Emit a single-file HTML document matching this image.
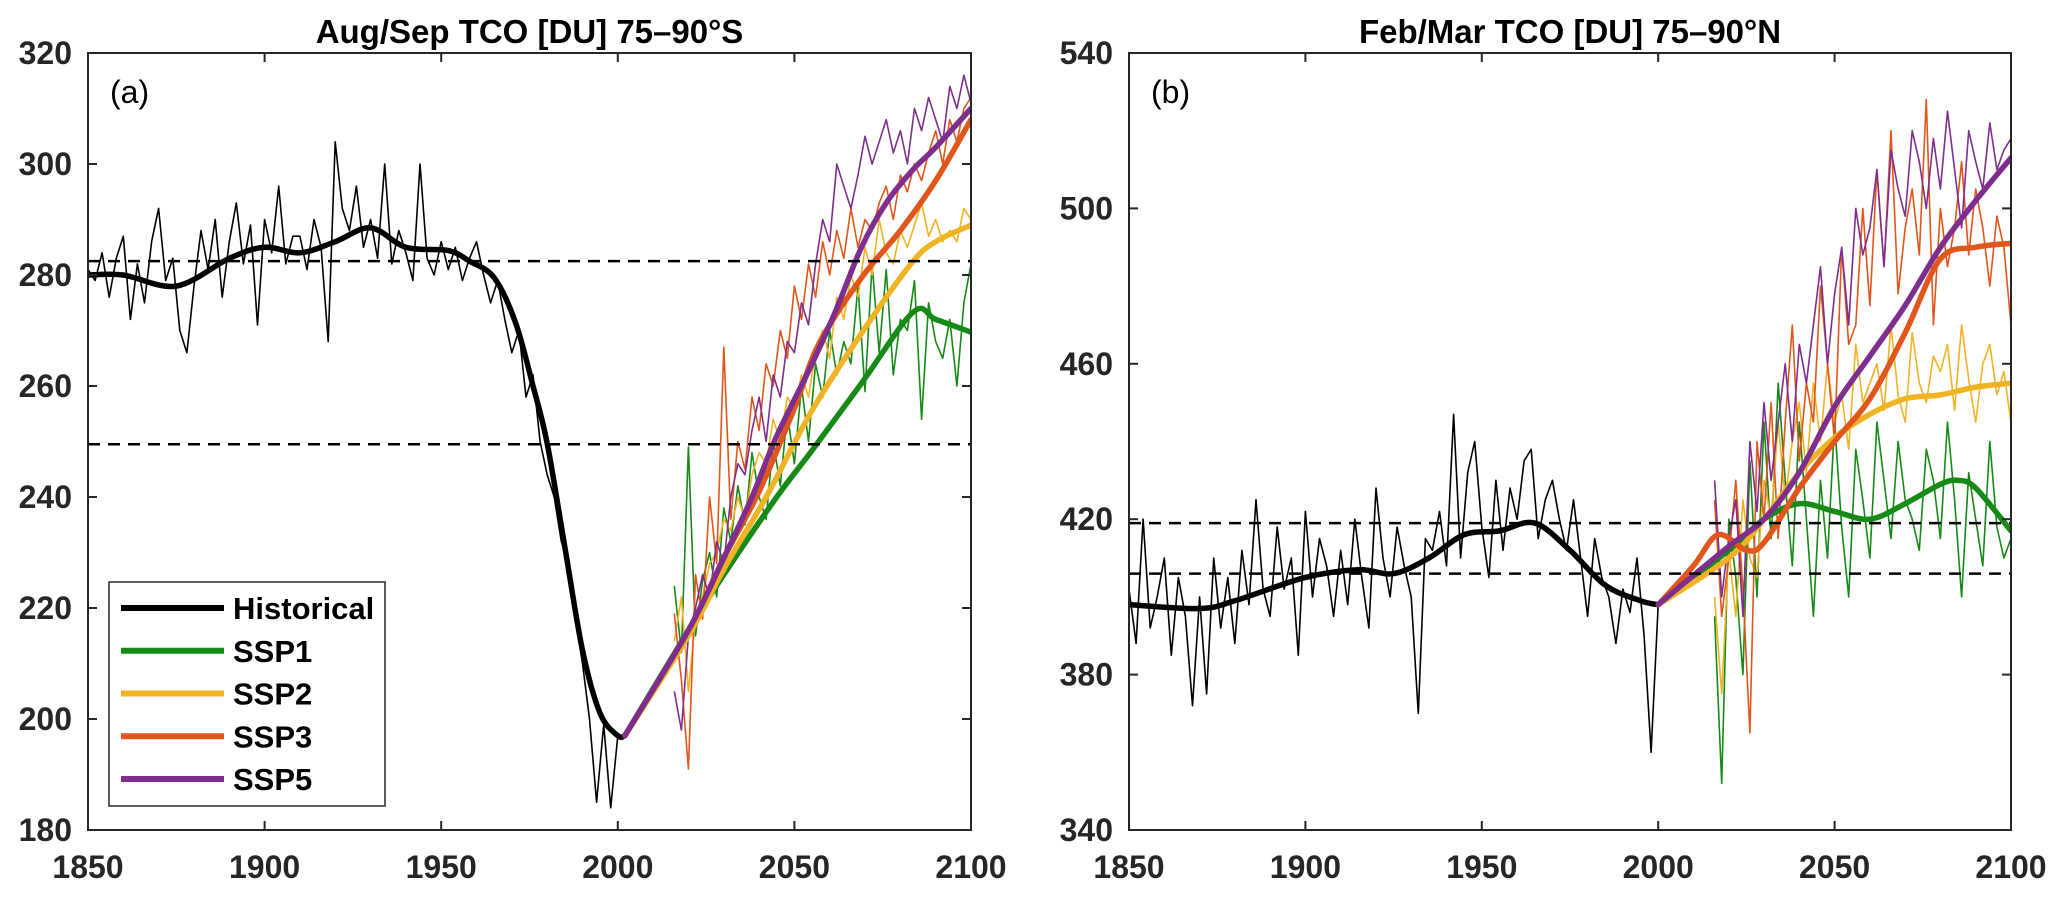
<!DOCTYPE html>
<html><head><meta charset="utf-8"><style>
body{margin:0;background:#fff;}
svg{display:block;font-family:"Liberation Sans",Arial,sans-serif;}
</style></head><body>
<svg id="fig" width="2067" height="898" viewBox="0 0 2067 898" xmlns="http://www.w3.org/2000/svg"></svg>
<script>
// ---------- DATA ----------
const histStart = 1850, futStart = 2016, stepYears = 2;
// Panel a: annual (every 2 yr) noisy values
const aHist = [281,279,284,276,283,287,272,282,275,286,292,279,283,270,266,278,288,281,290,276,286,293,282,289,271,290,284,296,282,287,287,281,290,285,268,304,292,288,296,285,290,283,300,282,288,284,279,300,283,280,286,281,285,279,283,286,280,275,279,272,266,270,258,262,250,244,240,232,228,218,210,200,185,199,184,197];
const aSSP1 = [224,212,249,215,225,230,222,238,232,242,235,248,240,236,250,242,255,246,260,250,264,258,270,262,268,264,278,259,282,266,281,262,272,270,279,254,275,268,265,272,260,275,282];
const aSSP2 = [214,222,205,218,222,228,230,236,234,240,236,244,248,246,254,250,258,256,262,258,266,270,265,276,272,280,276,285,280,290,284,282,288,285,289,293,287,290,286,288,286,292,290];
const aSSP3 = [219,207,191,226,218,240,228,267,236,250,245,258,252,264,260,270,265,278,272,282,276,286,280,288,283,292,285,290,288,293,296,290,298,295,300,297,302,306,300,308,304,310,312];
const aSSP5 = [205,198,215,220,226,222,232,228,240,246,244,252,258,250,262,258,268,266,275,271,282,290,286,300,296,292,298,305,300,304,308,302,306,300,310,306,312,308,304,314,310,316,311];
// Panel a: smoothed curves [year, value]
const aHistSmooth = [[1850,280],[1860,280],[1875,278],[1890,283],[1900,285],[1910,284],[1920,286],[1930,288.5],[1940,285],[1952,284.4],[1958,282.5],[1965,279.5],[1971,271.5],[1976,260],[1980,249.7],[1985,231],[1990,212.4],[1995,201],[2000,197],[2002,197]];
const aSSP1Smooth = [[2002,197],[2020,216],[2030,226],[2045,240],[2055,248.4],[2069,260.5],[2083.6,273.3],[2090,272],[2100,269.7]];
const aSSP2Smooth = [[2002,197],[2020,215],[2030,227],[2042,240],[2055,255.6],[2069,269.5],[2083,282],[2090,286],[2100,289]];
const aSSP3Smooth = [[2002,197],[2020,216],[2030,229],[2040,241],[2050,256],[2057,267.7],[2069,279.5],[2080,288],[2090,297],[2100,308]];
const aSSP5Smooth = [[2002,197],[2020,216],[2030,229],[2038,240],[2045,251],[2055,264],[2062,274],[2069,285],[2076,293],[2083.6,299],[2090,303],[2100,310]];
const aRefLines = [282.5, 249.5];
const aYTicks = [180,200,220,240,260,280,300,320];
// Panel b
const bHist = [402,388,420,392,400,410,385,405,395,372,400,375,410,392,405,388,412,398,425,402,395,418,402,410,385,422,400,415,408,395,412,398,420,405,392,428,410,400,418,408,400,370,415,412,422,408,447,410,432,440,418,405,430,412,428,420,435,438,415,425,430,420,412,425,410,395,415,405,400,388,402,396,410,390,360,398];
const bSSP1 = [395,352,420,405,380,435,400,445,415,455,430,408,445,420,395,430,410,445,418,400,438,425,410,445,430,415,440,425,420,412,438,430,415,445,425,400,432,420,408,440,418,410,415];
const bSSP2 = [400,375,412,395,425,410,405,430,420,445,425,440,450,432,455,440,460,445,452,438,465,450,455,460,448,470,452,445,468,455,450,462,458,465,448,470,456,445,460,465,452,458,445];
const bSSP3 = [425,395,410,430,402,365,440,420,450,415,445,470,435,455,445,480,460,440,490,465,470,500,475,510,485,520,478,495,505,488,528,470,500,485,495,512,488,505,495,480,498,490,470];
const bSSP5 = [430,400,415,425,395,440,422,450,430,445,460,440,465,455,470,485,460,478,490,470,500,488,495,510,485,515,505,498,520,512,500,518,505,525,510,495,520,512,505,522,510,515,518];
const bHistSmooth = [[1850,398],[1870,397],[1880,399],[1900,405],[1915,407],[1925,406],[1935,410],[1945,416],[1955,417],[1965,419],[1975,412],[1985,403],[1995,399],[2000,398]];
const bSSP1Smooth = [[2000,398],[2020,412],[2030,420],[2040,424],[2050,422],[2060,420],[2070,424],[2080,429],[2085,430],[2090,428],[2100,417]];
const bSSP2Smooth = [[2000,398],[2020,410],[2030,420],[2040,432],[2050,441],[2060,447],[2070,451],[2080,452],[2090,454],[2100,455]];
const bSSP3Smooth = [[2000,398],[2010,408],[2017,416],[2025,412],[2030,414],[2040,428],[2050,440],[2060,451],[2070,468],[2080,487],[2090,490],[2100,491]];
const bSSP5Smooth = [[2000,398],[2020,413],[2030,420],[2040,432],[2050,449],[2060,462],[2070,475],[2080,490],[2090,502],[2100,513]];
const bRefLines = [419, 406];
const bYTicks = [340,380,420,460,500,540];
const xTicks = [1850,1900,1950,2000,2050,2100];
const legendLabels = ["Historical","SSP1","SSP2","SSP3","SSP5"];
const colors = {hist:"#000000",ssp1:"#168a16",ssp2:"#f0b323",ssp3:"#e0561b",ssp5:"#7e2f8e"};

// ---------- DRAW ----------
const NS="http://www.w3.org/2000/svg";
const svg=document.getElementById('fig');
function el(tag,attrs,parent){const e=document.createElementNS(NS,tag);for(const k in attrs)e.setAttribute(k,attrs[k]);(parent||svg).appendChild(e);return e;}
function smoothPath(pts){let d=`M${pts[0][0]},${pts[0][1]}`;for(let i=0;i<pts.length-1;i++){const p0=pts[Math.max(0,i-1)],p1=pts[i],p2=pts[i+1],p3=pts[Math.min(pts.length-1,i+2)];const c1=[p1[0]+(p2[0]-p0[0])/6,p1[1]+(p2[1]-p0[1])/6],c2=[p2[0]-(p3[0]-p1[0])/6,p2[1]-(p3[1]-p1[1])/6];d+=` C${c1[0]},${c1[1]} ${c2[0]},${c2[1]} ${p2[0]},${p2[1]}`;}return d;}

function panel(cfg){
  const {x0,x1,y0,y1,ymin,ymax,yticks,name}=cfg;
  const g=el('g',{});
  
  
  const X=v=>x0+(v-1850)/250*(x1-x0);
  const Y=v=>y1-(v-ymin)/(ymax-ymin)*(y1-y0);
  const clip=el('clipPath',{id:name+'-clip'},g);
  el('rect',{x:x0,y:y0,width:x1-x0,height:y1-y0},clip);
  const plot=el('g',{'clip-path':`url(#${name}-clip)`},g);
  
  
  const series=[[cfg.hist,histStart,colors.hist,'historical'],[cfg.s1,futStart,colors.ssp1,'ssp1'],[cfg.s2,futStart,colors.ssp2,'ssp2'],[cfg.s3,futStart,colors.ssp3,'ssp3'],[cfg.s5,futStart,colors.ssp5,'ssp5']];
  series.forEach(([arr,start,c,n])=>{
    const pts=arr.map((v,i)=>`${X(start+i*stepYears).toFixed(1)},${Y(v).toFixed(1)}`).join(' ');
    const p=el('polyline',{points:pts,fill:'none',stroke:c,'stroke-width':1.6,'stroke-linejoin':'round'},plot);
    
    
  });
  const sm=[[cfg.hs,colors.hist,'historical'],[cfg.s1s,colors.ssp1,'ssp1'],[cfg.s2s,colors.ssp2,'ssp2'],[cfg.s3s,colors.ssp3,'ssp3'],[cfg.s5s,colors.ssp5,'ssp5']];
  sm.forEach(([arr,c,n])=>{
    const p=el('path',{d:smoothPath(arr.map(q=>[X(q[0]),Y(q[1])])),fill:'none',stroke:c,'stroke-width':5.5,'stroke-linecap':'round'},plot);
    
    
  });
  cfg.refs.forEach(r=>{
    const l=el('line',{x1:x0,x2:x1,y1:Y(r),y2:Y(r),stroke:'#000','stroke-width':2.5,'stroke-dasharray':'12,8'},g);
    
    
  });
  const box=el('rect',{x:x0,y:y0,width:x1-x0,height:y1-y0,fill:'none',stroke:'#262626','stroke-width':2},g);
  
  
  xTicks.forEach(t=>{
    const x=X(t);
    el('line',{x1:x,x2:x,y1:y1,y2:y1-9,stroke:'#262626','stroke-width':2},g);
    el('line',{x1:x,x2:x,y1:y0,y2:y0+9,stroke:'#262626','stroke-width':2},g);
    const tx=el('text',{x:x,y:878,'text-anchor':'middle','font-size':32,'font-weight':'bold',fill:'#262626'},g);
    tx.textContent=t;
    
    
  });
  yticks.forEach(t=>{
    const y=Y(t);
    el('line',{x1:x0,x2:x0+9,y1:y,y2:y,stroke:'#262626','stroke-width':2},g);
    el('line',{x1:x1,x2:x1-9,y1:y,y2:y,stroke:'#262626','stroke-width':2},g);
    const tx=el('text',{x:x0-16,y:y+11,'text-anchor':'end','font-size':32,'font-weight':'bold',fill:'#262626'},g);
    tx.textContent=t;
    
    
  });
  const ti=el('text',{x:(x0+x1)/2,y:43,'text-anchor':'middle','font-size':33,'font-weight':'bold',fill:'#000'},g);
  ti.textContent=cfg.title;
  
  
  const lb=el('text',{x:x0+22,y:103,'font-size':32,fill:'#000'},g);
  lb.textContent=cfg.label;
  
  
}

panel({name:'panel-a',x0:88,x1:971,y0:53,y1:830,ymin:180,ymax:320,yticks:aYTicks,title:'Aug/Sep TCO [DU] 75–90°S',label:'(a)',
  hist:aHist,s1:aSSP1,s2:aSSP2,s3:aSSP3,s5:aSSP5,hs:aHistSmooth,s1s:aSSP1Smooth,s2s:aSSP2Smooth,s3s:aSSP3Smooth,s5s:aSSP5Smooth,refs:aRefLines});
panel({name:'panel-b',x0:1129,x1:2011,y0:53,y1:830,ymin:340,ymax:540,yticks:bYTicks,title:'Feb/Mar TCO [DU] 75–90°N',label:'(b)',
  hist:bHist,s1:bSSP1,s2:bSSP2,s3:bSSP3,s5:bSSP5,hs:bHistSmooth,s1s:bSSP1Smooth,s2s:bSSP2Smooth,s3s:bSSP3Smooth,s5s:bSSP5Smooth,refs:bRefLines});

// legend
const lg=el('g',{});


el('rect',{x:109,y:582,width:276,height:224,fill:'#fff',stroke:'#262626','stroke-width':1.5},lg);
const legColors=[colors.hist,colors.ssp1,colors.ssp2,colors.ssp3,colors.ssp5];
legendLabels.forEach((t,i)=>{
  const y=608+i*42.75;
  const ln=el('line',{x1:121,x2:224,y1:y,y2:y,stroke:legColors[i],'stroke-width':6},lg);
  
  
  const tx=el('text',{x:233,y:y+11,'font-size':31,'font-weight':'bold',fill:'#000'},lg);
  tx.textContent=t;
  
  
});
</script>
</body></html>
